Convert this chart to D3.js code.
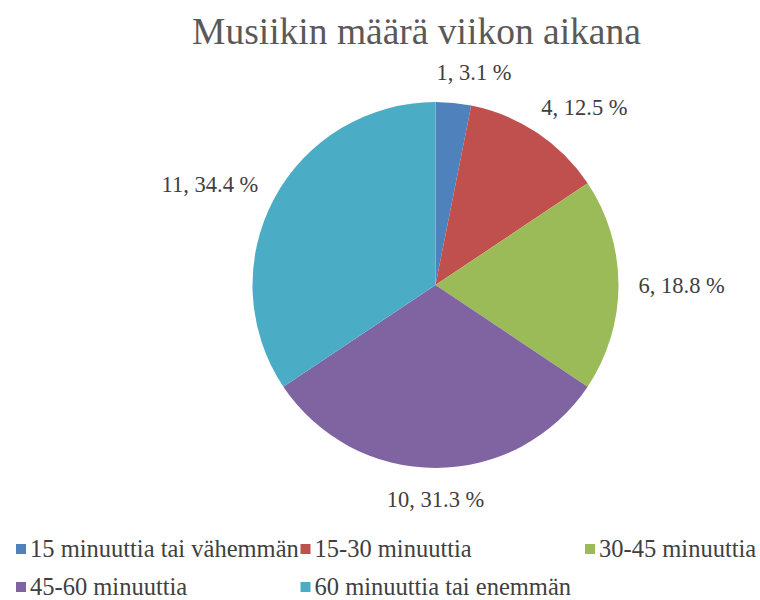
<!DOCTYPE html>
<html>
<head>
<meta charset="utf-8">
<script src="https://d3js.org/d3.v7.min.js"></script>
</head>
<body style="margin:0">
<script>
// chart data
const categories = ["15 minuuttia tai vähemmän", "15-30 minuuttia", "30-45 minuuttia",
                    "45-60 minuuttia", "60 minuuttia tai enemmän"];
const counts = [1, 4, 6, 10, 11];
const percents = ["3.1", "12.5", "18.8", "31.3", "34.4"];
const colors = ["#4F81BD", "#C0504D", "#9BBB59", "#8064A2", "#4BACC6"];

const W = 760, H = 600;
const cx = 435.5, cy = 285, r = 183;
const FONT = "'Liberation Serif', 'Times New Roman', serif";

const svg = d3.select("body").append("svg")
  .attr("width", W).attr("height", H)
  .style("font-family", FONT);

// title
svg.append("text")
  .attr("x", 416.5).attr("y", 44)
  .attr("text-anchor", "middle")
  .style("font-family", FONT)
  .style("font-size", "37.5px")
  .attr("fill", "#595959")
  .text("Musiikin määrä viikon aikana");

const pie = d3.pie().sort(null).value(d => d);
const arcs = pie(counts);
const arc = d3.arc().innerRadius(0).outerRadius(r);

const g = svg.append("g").attr("transform", `translate(${cx},${cy})`);

g.selectAll("path")
  .data(arcs)
  .enter()
  .append("path")
  .attr("d", arc)
  .attr("fill", (d, i) => colors[i]);

// outside labels, box pushed away from the pie along the mid angle
const R = r + 20;
g.selectAll("text.label")
  .data(arcs)
  .enter()
  .append("text")
  .attr("class", "label")
  .style("font-family", FONT)
  .style("font-size", "22.5px")
  .attr("fill", "#404040")
  .attr("text-anchor", "middle")
  .text((d, i) => `${counts[i]}, ${percents[i]} %`)
  .each(function (d) {
    const a = (d.startAngle + d.endAngle) / 2;
    const w = this.getComputedTextLength();
    const h = 22;
    const s = Math.sin(a), c = Math.cos(a);
    const px = R * s, py = -R * c;
    d3.select(this)
      .attr("x", px + Math.sign(s) * Math.pow(Math.abs(s), 0.3) * w / 2)
      .attr("y", py - c * h / 2 + 8);
  });

// legend
const legendX = d3.scaleLinear().domain([0, 1]).range([16, 300.5]);
const items = svg.append("g").selectAll("g")
  .data(categories)
  .enter()
  .append("g")
  .attr("transform", (d, i) => `translate(${legendX(i % 3)},${549 + Math.floor(i / 3) * 38})`);

items.append("rect")
  .attr("x", 0).attr("y", -5)
  .attr("width", 10).attr("height", 10)
  .attr("fill", (d, i) => colors[i]);

items.append("text")
  .attr("x", 14).attr("y", 8)
  .style("font-family", FONT)
  .style("font-size", "24.5px")
  .attr("fill", "#404040")
  .text(d => d);
</script>
</body>
</html>
